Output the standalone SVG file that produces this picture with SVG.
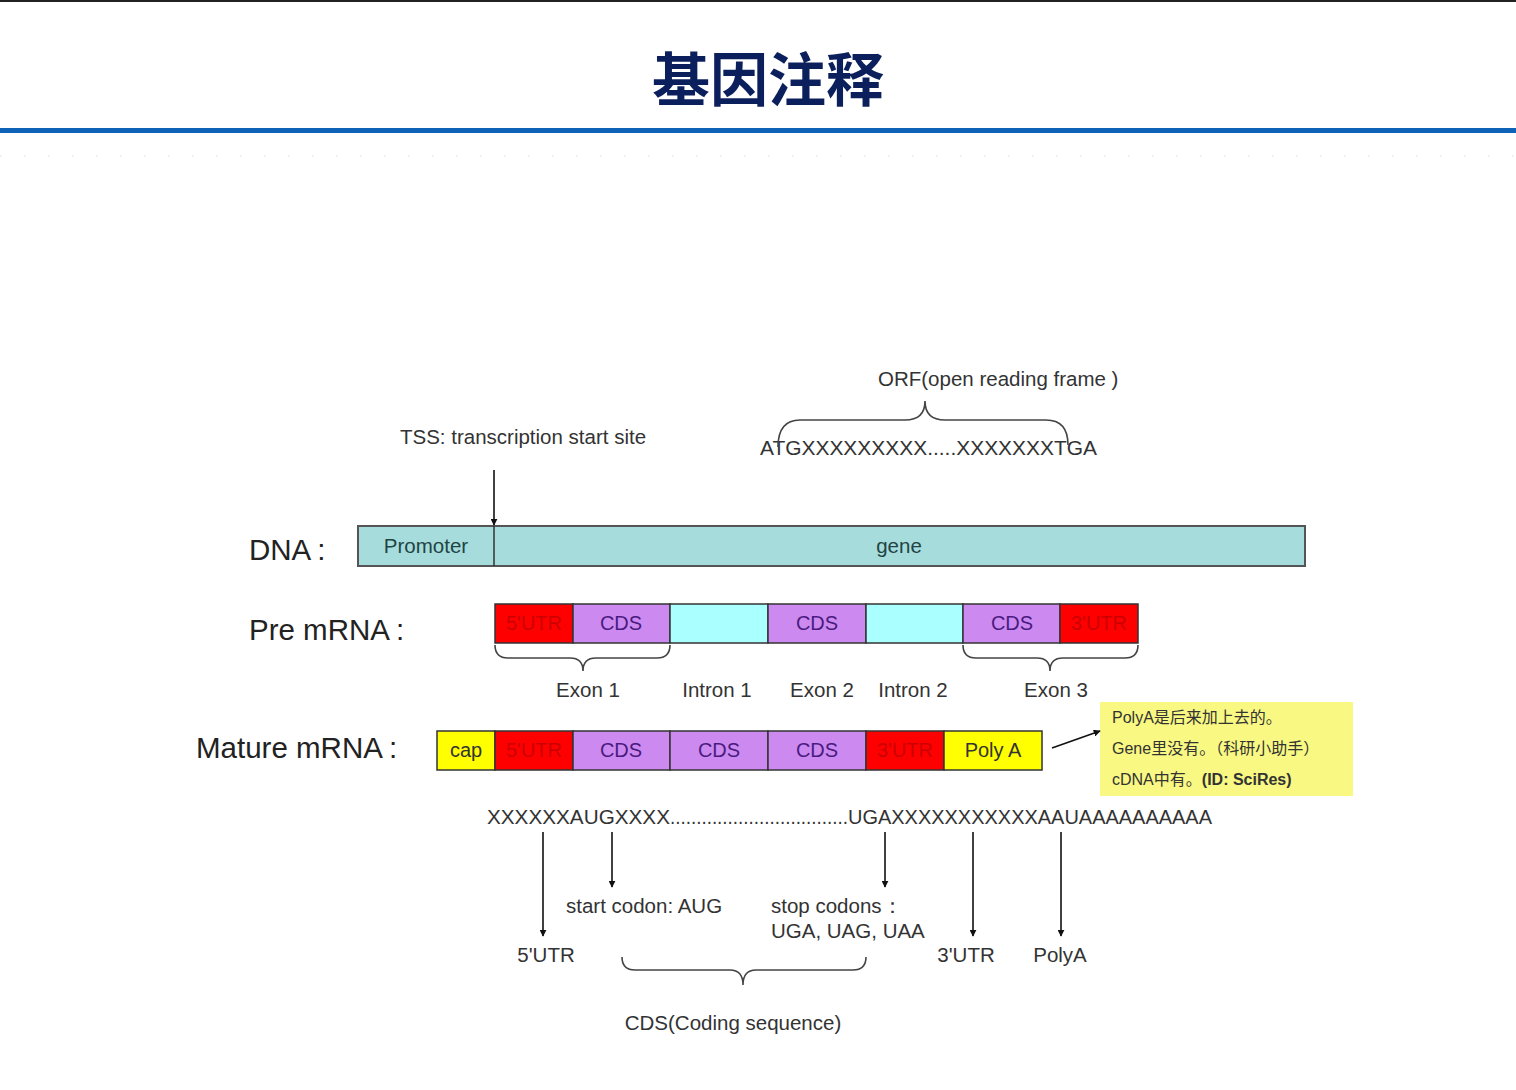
<svg xmlns="http://www.w3.org/2000/svg" width="1516" height="1090" viewBox="0 0 1516 1090">
<defs>
<marker id="ah" viewBox="0 0 10 10" refX="9" refY="5" markerWidth="7" markerHeight="7" orient="auto" markerUnits="userSpaceOnUse"><path d="M0,0 L10,5 L0,10 z" fill="#111"/></marker>
</defs>
<style>
text{font-family:"Liberation Sans",Arial,sans-serif;fill:#333}
.lab{font-size:29.5px;fill:#222}
.sm{font-size:20.5px;fill:#333}
.seg{stroke:#333;stroke-width:1.5}
.red{fill:#ff0000}
.pur{fill:#cc8af0}
.cya{fill:#aaffff}
.yel{fill:#ffff00}
.cds{font-size:20px;fill:#4a1a80;text-anchor:middle}
.utr{font-size:20px;fill:#cc0000;text-anchor:middle}
.ylt{font-size:20px;fill:#333;text-anchor:middle}
.br{fill:none;stroke:#444;stroke-width:1.6}
.arr{stroke:#111;stroke-width:1.6;fill:none;marker-end:url(#ah)}
.note{font-size:16px;fill:#333;font-family:"Liberation Sans","Noto Sans CJK SC",sans-serif}
</style>
<rect width="1516" height="1090" fill="#ffffff"/>
<rect x="0" y="0" width="1516" height="2" fill="#222"/>
<g id="title">
<text x="768" y="101" text-anchor="middle" style="font-family:'Noto Sans CJK SC',sans-serif;font-size:58px;font-weight:bold;fill:#0b1f5c">基因注释</text>
<rect x="0" y="128" width="1516" height="5" fill="#0e63b8"/>
<line x1="0" y1="156" x2="1516" y2="156" stroke="#f2f2f2" stroke-width="2" stroke-dasharray="2,22"/>
</g>

<g id="dna">
<text class="lab" x="249" y="560">DNA<tspan dx="6">:</tspan></text>
<rect x="358" y="526" width="947" height="40" fill="#a6dcdc" stroke="#555" stroke-width="2"/>
<line x1="494" y1="526" x2="494" y2="566" stroke="#333" stroke-width="1.5"/>
<text x="426" y="553" text-anchor="middle" style="font-size:20.5px;fill:#244">Promoter</text>
<text x="899" y="553" text-anchor="middle" style="font-size:20.5px;fill:#244">gene</text>
</g>

<g id="tss">
<text class="sm" x="400" y="444">TSS: transcription start site</text>
</g>

<g id="orf">
<text class="sm" x="878" y="386">ORF(open reading frame )</text>
<text x="760" y="455" textLength="337" lengthAdjust="spacingAndGlyphs" style="font-size:20px;fill:#333">ATGXXXXXXXXX.....XXXXXXXTGA</text>
<path class="br" d="M778,447 Q778,420 800,420 L905,420 Q925,420 925,401 Q925,420 945,420 L1046,420 Q1068,420 1068,445"/>
</g>

<g id="pre-mrna">
<text class="lab" x="249" y="640">Pre mRNA<tspan dx="6">:</tspan></text>
<rect class="seg red" x="495" y="604" width="78" height="39"/>
<rect class="seg pur" x="573" y="604" width="97" height="39"/>
<rect class="seg cya" x="670" y="604" width="98" height="39"/>
<rect class="seg pur" x="768" y="604" width="98" height="39"/>
<rect class="seg cya" x="866" y="604" width="97" height="39"/>
<rect class="seg pur" x="963" y="604" width="97" height="39"/>
<rect class="seg red" x="1060" y="604" width="78" height="39"/>
<text class="utr" x="534" y="630">5'UTR</text>
<text class="cds" x="621" y="630">CDS</text>
<text class="cds" x="817" y="630">CDS</text>
<text class="cds" x="1012" y="630">CDS</text>
<text class="utr" x="1099" y="630">3'UTR</text>
<path class="br" d="M495,645 Q495,658 508,658 L570,658 Q583,658 583,671 Q583,658 596,658 L657,658 Q670,658 670,645"/>
<path class="br" d="M963,645 Q963,658 976,658 L1037,658 Q1050,658 1050,671 Q1050,658 1063,658 L1125,658 Q1138,658 1138,645"/>
<text class="sm" x="588" y="697" text-anchor="middle">Exon 1</text>
<text class="sm" x="717" y="697" text-anchor="middle">Intron 1</text>
<text class="sm" x="822" y="697" text-anchor="middle">Exon 2</text>
<text class="sm" x="913" y="697" text-anchor="middle">Intron 2</text>
<text class="sm" x="1056" y="697" text-anchor="middle">Exon 3</text>
</g>

<g id="mature-mrna">
<text class="lab" x="196" y="758">Mature mRNA<tspan dx="6">:</tspan></text>
<rect class="seg yel" x="437" y="731" width="58" height="39"/>
<rect class="seg red" x="495" y="731" width="78" height="39"/>
<rect class="seg pur" x="573" y="731" width="97" height="39"/>
<rect class="seg pur" x="670" y="731" width="98" height="39"/>
<rect class="seg pur" x="768" y="731" width="98" height="39"/>
<rect class="seg red" x="866" y="731" width="78" height="39"/>
<rect class="seg yel" x="944" y="731" width="98" height="39"/>
<text class="ylt" x="466" y="757">cap</text>
<text class="utr" x="534" y="757">5'UTR</text>
<text class="cds" x="621" y="757">CDS</text>
<text class="cds" x="719" y="757">CDS</text>
<text class="cds" x="817" y="757">CDS</text>
<text class="utr" x="905" y="757">3'UTR</text>
<text class="ylt" x="993" y="757">Poly A</text>
</g>

<g id="note">
<rect x="1100" y="702" width="253" height="94" fill="#f8f882"/>
<text class="note" x="1112" y="723">PolyA是后来加上去的。</text>
<text class="note" x="1112" y="754">Gene里没有。（科研小助手）</text>
<text class="note" x="1112" y="785">cDNA中有。<tspan font-weight="bold">(ID: SciRes)</tspan></text>
</g>

<g id="sequence">
<text x="487" y="824" textLength="183" lengthAdjust="spacingAndGlyphs" style="font-size:20px;fill:#333">XXXXXXAUGXXXX</text>
<text x="670" y="824" textLength="178" lengthAdjust="spacingAndGlyphs" style="font-size:20px;fill:#333">..................................</text>
<text x="848" y="824" textLength="364" lengthAdjust="spacingAndGlyphs" style="font-size:20px;fill:#333">UGAXXXXXXXXXXXAAUAAAAAAAAAA</text>
</g>

<g id="annotations">
<text class="sm" x="566" y="913">start codon: AUG</text>
<text class="sm" x="771" y="913">stop codons：</text>
<text class="sm" x="771" y="938">UGA, UAG, UAA</text>
<text class="sm" x="546" y="962" text-anchor="middle">5'UTR</text>
<text class="sm" x="966" y="962" text-anchor="middle">3'UTR</text>
<text class="sm" x="1060" y="962" text-anchor="middle">PolyA</text>
<text class="sm" x="733" y="1030" text-anchor="middle">CDS(Coding sequence)</text>
<path class="br" d="M622,957 Q622,970 635,970 L730,970 Q743,970 743,985 Q743,970 756,970 L853,970 Q866,970 866,957"/>
</g>

<g id="connectors">
<line class="arr" x1="494" y1="470" x2="494" y2="525"/>
<line class="arr" x1="1052" y1="748" x2="1100" y2="731"/>
<line class="arr" x1="543" y1="832" x2="543" y2="936"/>
<line class="arr" x1="612" y1="832" x2="612" y2="887"/>
<line class="arr" x1="885" y1="832" x2="885" y2="887"/>
<line class="arr" x1="973" y1="832" x2="973" y2="936"/>
<line class="arr" x1="1061" y1="832" x2="1061" y2="936"/>
</g>
</svg>
